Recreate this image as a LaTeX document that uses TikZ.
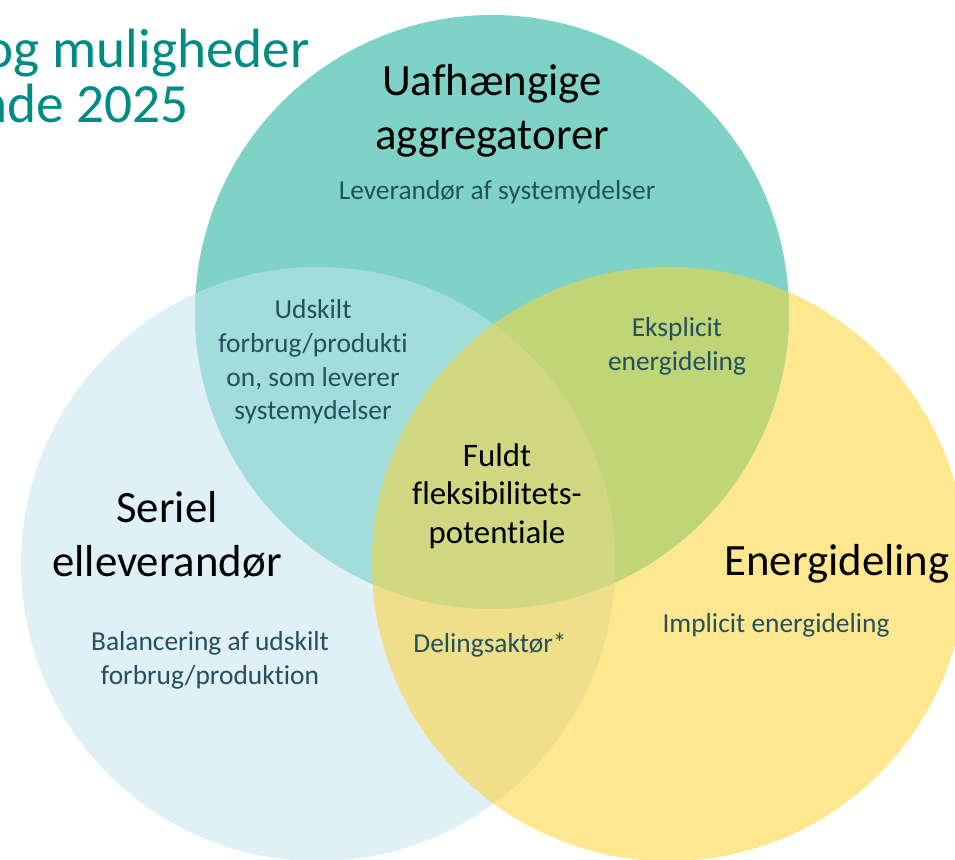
\documentclass[tikz,border=0pt]{standalone}
\usepackage{fontspec}
\setmainfont{Carlito}[Ligatures=NoCommon]
\usepackage{tikz}
\definecolor{lysblaa}{HTML}{DFF0F7}
\definecolor{turkis}{HTML}{7FD3C6}
\definecolor{gul}{HTML}{FFE78F}
\definecolor{turkisblaa}{HTML}{A2DCDB}
\definecolor{turkisgul}{HTML}{C0D577}
\definecolor{blaagul}{HTML}{EFDF8A}
\definecolor{midte}{HTML}{CFD780}
\definecolor{titelfarve}{RGB}{0,140,132}
\definecolor{brodtekst}{HTML}{23505F}

\begin{document}
\begin{tikzpicture}[x=0.02cm, y=0.02cm,
    storfelt/.style={align=center, inner sep=0pt, text=black,
      font=\fontsize{25.5}{30.5}\selectfont},
    lillefelt/.style={align=center, inner sep=0pt, text=brodtekst,
      font=\fontsize{15.6}{19.2}\selectfont},
    midtfelt/.style={align=center, inner sep=0pt, text=black,
      font=\fontsize{18.7}{22}\selectfont},
    titel/.style={inner sep=0pt, text=titelfarve, anchor=base east,
      font=\fontsize{31.5}{35}\selectfont}]
            \useasboundingbox (0,0) rectangle (955,859);
            \coordinate (top) at (492,547);
            \coordinate (venstre) at (318,295);
            \coordinate (hoejre) at (669,295);
            % the three circles
            \fill[lysblaa] (venstre) circle (297);
            \fill[gul] (hoejre) circle (297);
            \fill[turkis] (top) circle (297);
            \begin{scope}
              \clip (top) circle (297);
              \fill[turkisblaa] (venstre) circle (297);
              \fill[turkisgul] (hoejre) circle (297);
            \end{scope}
            \begin{scope}
              \clip (venstre) circle (297);
              \fill[blaagul] (hoejre) circle (297);
              \clip (hoejre) circle (297);
              \fill[midte] (top) circle (297);
            \end{scope}
            % title, cut at the left edge
            \node[titel] (titel1) at (310,791) {og muligheder};
            \node[titel] (titel2) at (189,736) {nde 2025};
            % labels
            \node[storfelt] (aggr) at (492,748) {Uafhængige\\aggregatorer};
            \node[lillefelt, anchor=base] (aggrtxt) at (497,659) {Leverandør af systemydelser};
            \node[lillefelt] (udskilt) at (313,497) {Udskilt\\forbrug/produkti\\on, som leverer\\systemydelser};
            \node[lillefelt] (eksplicit) at (677,513) {Eksplicit\\energideling};
            \node[midtfelt] (fuldt) at (497,363) {Fuldt\\fleksibilitets-\\potentiale};
            \node[storfelt] (seriel) at (167,324) {Seriel\\elleverandør};
            \node[storfelt, anchor=base] (energi) at (837,284) {Energideling};
            \node[lillefelt, anchor=base] (implicit) at (776,227) {Implicit energideling};
            \node[lillefelt] (balance) at (210,199) {Balancering af udskilt\\forbrug/produktion};
            \node[lillefelt, anchor=base] (deling) at (490,207) {Delingsaktør*};
\end{tikzpicture}
\end{document}
